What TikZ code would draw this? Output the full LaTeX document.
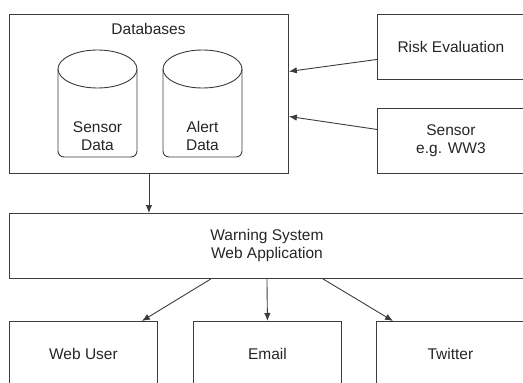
\documentclass[tikz,border=0pt]{standalone}
\usepackage{fontspec}
\setmainfont{Liberation Sans}
\usetikzlibrary{positioning}
\usetikzlibrary{calc}
\usetikzlibrary{arrows.meta}
\definecolor{linegray}{RGB}{60,60,60}

\begin{document}
\begin{tikzpicture}[x=1pt, y=-1pt, >={Latex[length=8pt,width=6.5pt]},
    box/.style={draw=linegray, line width=0.9pt, rectangle, anchor=north west, inner sep=0pt, font=\fontsize{15.5}{18}\selectfont, align=center, text=black!85},
    openbox/.style={box, draw=none},
    frame/.style={draw=linegray, line width=0.9pt},
    lbl/.style={font=\fontsize{15.5}{18}\selectfont, align=center, text=black!85},
    cyl/.style={draw=linegray, line width=0.9pt, fill=white},
    conn/.style={->, draw=linegray, line width=0.9pt}]
    \useasboundingbox (0,0) rectangle (523,383);
    \clip (0,0) rectangle (523,383);
    % Databases
    \node[box, minimum width=279pt, minimum height=159pt] (db) at (9,14) {};
    \node[lbl] (dbtitle) at (148.5,29) {Databases};
    \draw[cyl, rounded corners=6pt] (58,69) -- (58,157) -- (137,157) -- (137,69);
    \draw[cyl] (97.5,69) ellipse [x radius=39.5, y radius=19];
    \node[lbl] (sensordb) at (97.5,136) {Sensor\\Data};
    \draw[cyl, rounded corners=6pt] (163,69) -- (163,157) -- (242,157) -- (242,69);
    \draw[cyl] (202.5,69) ellipse [x radius=39.5, y radius=19];
    \node[lbl] (alertdb) at (202.5,136) {Alert\\Data};
    % Inputs
    \node[openbox, minimum width=147pt, minimum height=65pt] (risk) at (377,14) {Risk Evaluation};
    \node[openbox, minimum width=147pt, minimum height=65pt] (sensor) at (377,108) {Sensor\\e.g. WW3};
    % Web application
    \node[openbox, minimum width=515pt, minimum height=65pt] (warn) at (9,213) {Warning System\\Web Application};
    % Outputs
    \node[box, minimum width=148pt, minimum height=66pt] (webuser) at (9,321) {Web User};
    \node[box, minimum width=148pt, minimum height=66pt] (email) at (193,321) {Email};
    \node[openbox, minimum width=148pt, minimum height=66pt] (twitter) at (376,321) {Twitter};
    % boxes cut off at the right edge
    \foreach \n in {risk,sensor,warn,twitter}
        \draw[frame] ([xshift=20pt]\n.north east) -- (\n.north west) -- (\n.south west) -- ([xshift=20pt]\n.south east);
    \draw[conn] ([yshift=-12.5pt]risk.west) -- ([yshift=22.5pt]db.east);
    \draw[conn] ([yshift=11.5pt]sensor.west) -- ([yshift=-22.5pt]db.east);
    \draw[conn] (db.south) -- (db.south |- warn.north);
    \draw[conn] ([xshift=-56pt]warn.south) -- ([xshift=-16pt]webuser.north east);
    \draw[conn] (warn.south) -- (email.north);
    \draw[conn] ([xshift=56pt]warn.south) -- ([xshift=17pt]twitter.north west);
\end{tikzpicture}
\end{document}
